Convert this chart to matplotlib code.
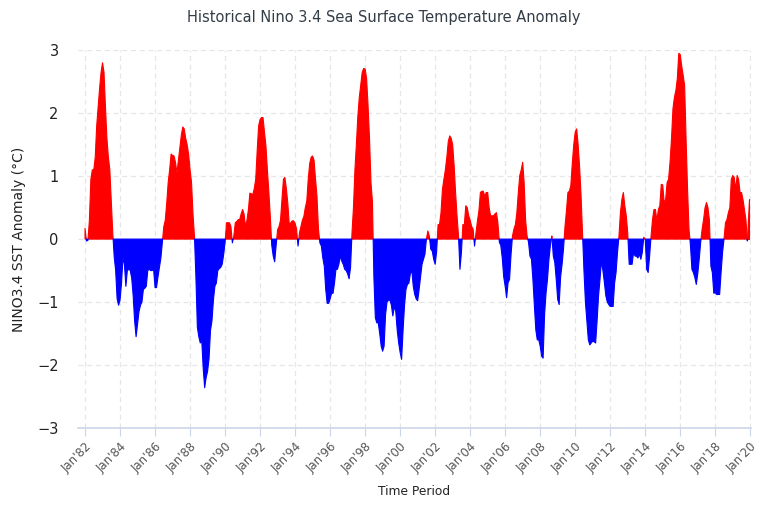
import numpy as np
import matplotlib
matplotlib.use("Agg")
import matplotlib.pyplot as plt

# monthly Nino 3.4 SST anomaly (deg C), Jan 1982 .. Dec 2019
start_year = 1982
nino34 = [
    0.17, -0.03, -0.02, 0.3, 0.95, 1.1, 1.1, 1.3, 1.8, 2.1, 2.4, 2.65,          # 1982
    2.8, 2.65, 2.1, 1.6, 1.3, 1.1, 0.6, 0.1, -0.28, -0.5, -0.95, -1.05,         # 1983
    -0.97, -0.7, -0.3, -0.4, -0.75, -0.5, -0.48, -0.5, -0.62, -0.9, -1.3, -1.55,  # 1984
    -1.35, -1.15, -1.05, -1.0, -0.8, -0.78, -0.75, -0.5, -0.48, -0.5, -0.5, -0.48,  # 1985
    -0.77, -0.77, -0.6, -0.45, -0.3, -0.05, 0.2, 0.3, 0.57, 0.9, 1.1, 1.35,     # 1986
    1.33, 1.32, 1.22, 1.05, 1.25, 1.45, 1.65, 1.78, 1.75, 1.6, 1.5, 1.35,       # 1987
    1.1, 0.9, 0.4, 0.05, -0.6, -1.4, -1.55, -1.65, -1.6, -2.05, -2.36, -2.2,    # 1988
    -2.1, -1.9, -1.45, -1.3, -0.97, -0.75, -0.7, -0.5, -0.47, -0.45, -0.4, -0.25,  # 1989
    -0.05, 0.26, 0.26, 0.26, 0.2, -0.06, 0.05, 0.26, 0.28, 0.31, 0.31, 0.4,     # 1990
    0.47, 0.4, 0.2, 0.3, 0.47, 0.73, 0.72, 0.71, 0.8, 0.95, 1.4, 1.8,           # 1991
    1.9, 1.93, 1.93, 1.7, 1.48, 1.1, 0.75, 0.36, -0.1, -0.27, -0.36, -0.1,      # 1992
    0.15, 0.2, 0.3, 0.63, 0.95, 0.98, 0.8, 0.57, 0.23, 0.26, 0.29, 0.29,        # 1993
    0.25, 0.16, -0.11, 0.1, 0.2, 0.3, 0.36, 0.5, 0.6, 0.95, 1.2, 1.3,           # 1994
    1.32, 1.25, 0.95, 0.68, 0.16, -0.06, -0.11, -0.3, -0.43, -0.8, -1.02, -1.02,  # 1995
    -0.95, -0.86, -0.86, -0.7, -0.48, -0.48, -0.4, -0.27, -0.35, -0.4, -0.48, -0.5,  # 1996
    -0.55, -0.63, -0.45, 0.1, 0.5, 1.1, 1.5, 1.95, 2.25, 2.45, 2.65, 2.71,      # 1997
    2.7, 2.55, 2.12, 1.6, 0.9, 0.6, -0.6, -1.25, -1.33, -1.33, -1.5, -1.7,      # 1998
    -1.78, -1.7, -1.2, -1.0, -0.97, -0.97, -1.05, -1.22, -1.07, -1.15, -1.45, -1.65,  # 1999
    -1.8, -1.91, -1.45, -1.05, -0.8, -0.72, -0.7, -0.55, -0.5, -0.75, -0.88, -0.95,  # 2000
    -0.98, -0.8, -0.6, -0.4, -0.32, -0.24, 0.0, 0.13, 0.05, -0.16, -0.19, -0.32,  # 2001
    -0.4, -0.2, 0.23, 0.23, 0.42, 0.79, 0.95, 1.1, 1.3, 1.55, 1.64, 1.6,        # 2002
    1.5, 1.17, 0.74, 0.37, 0.05, -0.48, -0.21, 0.23, 0.23, 0.53, 0.5, 0.37,     # 2003
    0.3, 0.2, 0.16, -0.11, 0.1, 0.29, 0.45, 0.74, 0.76, 0.76, 0.68, 0.74,       # 2004
    0.74, 0.5, 0.37, 0.37, 0.37, 0.4, 0.42, 0.26, -0.05, -0.1, -0.3, -0.6,      # 2005
    -0.75, -0.93, -0.69, -0.64, -0.25, 0.05, 0.16, 0.23, 0.42, 0.74, 1.01, 1.1,  # 2006
    1.22, 0.9, 0.3, 0.05, -0.05, -0.27, -0.32, -0.64, -1.05, -1.44, -1.6, -1.6,  # 2007
    -1.7, -1.86, -1.89, -1.2, -0.86, -0.64, -0.32, -0.1, 0.05, -0.27, -0.37, -0.64,  # 2008
    -0.96, -1.04, -0.6, -0.4, -0.15, 0.2, 0.45, 0.74, 0.76, 0.85, 1.2, 1.5,     # 2009
    1.7, 1.75, 1.5, 1.15, 0.7, 0.1, -0.5, -1.0, -1.3, -1.6, -1.68, -1.65,       # 2010
    -1.62, -1.63, -1.65, -1.3, -0.9, -0.64, -0.35, -0.5, -0.69, -0.9, -1.0, -1.04,  # 2011
    -1.07, -1.07, -1.07, -0.7, -0.53, -0.21, 0.05, 0.42, 0.63, 0.74, 0.53, 0.37,  # 2012
    0.1, -0.4, -0.4, -0.4, -0.21, -0.27, -0.27, -0.3, -0.24, -0.32, -0.21, 0.03,  # 2013
    0.0, -0.48, -0.53, -0.27, 0.05, 0.31, 0.47, 0.47, 0.29, 0.47, 0.53, 0.87,   # 2014
    0.86, 0.58, 0.63, 0.9, 0.95, 1.22, 1.59, 2.07, 2.25, 2.36, 2.55, 2.95,      # 2015
    2.93, 2.75, 2.6, 2.44, 1.59, 0.8, 0.16, -0.1, -0.48, -0.53, -0.61, -0.72,   # 2016
    -0.55, -0.32, -0.05, 0.16, 0.31, 0.5, 0.58, 0.5, 0.3, -0.43, -0.53, -0.86,  # 2017
    -0.85, -0.88, -0.88, -0.88, -0.53, -0.21, 0.0, 0.26, 0.31, 0.42, 0.5, 0.95,  # 2018
    1.01, 0.98, 0.79, 1.01, 0.95, 0.74, 0.74, 0.63, 0.47, 0.31, -0.03, 0.63,    # 2019
]
tick_years = list(range(1982, 2021, 2))
tick_labels = ["Jan'%02d" % (y % 100) for y in tick_years]

vals = np.array(nino34)
t = start_year + np.arange(len(vals)) / 12.0

fig = plt.figure(figsize=(7.68, 5.12), dpi=100)
ax = fig.add_axes([0.1016, 0.164, 0.876, 0.738])

# warm / cold anomalies
ax.fill_between(t, 0, vals, where=vals >= 0, interpolate=True,
                facecolor="#ff0000", edgecolor="#ff0000", linewidth=0.8, zorder=3)
ax.fill_between(t, 0, vals, where=vals <= 0, interpolate=True,
                facecolor="#0000ff", edgecolor="#0000ff", linewidth=0.8, zorder=3)

ax.set_xlim(1981.6, 2020.03)
ax.set_ylim(-3, 3)
ax.set_yticks(range(-3, 4))
ax.set_yticklabels(["\u22123", "\u22122", "\u22121", "0", "1", "2", "3"])
ax.set_xticks(tick_years)
ax.set_xticklabels(tick_labels, rotation=45, ha="right", rotation_mode="anchor")

ax.grid(True, color="#e6e6e6", linestyle=(0, (4, 3)), linewidth=0.9, zorder=0)
for side in ["top", "right", "left"]:
    ax.spines[side].set_visible(False)
ax.spines["bottom"].set_color("#ccd6eb")
ax.spines["bottom"].set_linewidth(1.2)
ax.tick_params(axis="x", colors="#ccd6eb", labelcolor="#555555", labelsize=8.5,
               length=6, pad=3)
ax.tick_params(axis="y", length=0, labelcolor="#222222", labelsize=10.5, pad=14)

ax.set_xlabel("Time Period", fontsize=8.8, color="#222222")
ax.xaxis.set_label_coords(0.5, -0.151)
ax.set_ylabel("NINO3.4 SST Anomaly (\u00b0C)", fontsize=10, color="#222222")
ax.yaxis.set_label_coords(-0.077, 0.5)
fig.text(0.5, 0.965, "Historical Nino 3.4 Sea Surface Temperature Anomaly",
         ha="center", va="center", fontsize=10.5, color="#333d47")

fig.savefig("out.png", dpi=100)
